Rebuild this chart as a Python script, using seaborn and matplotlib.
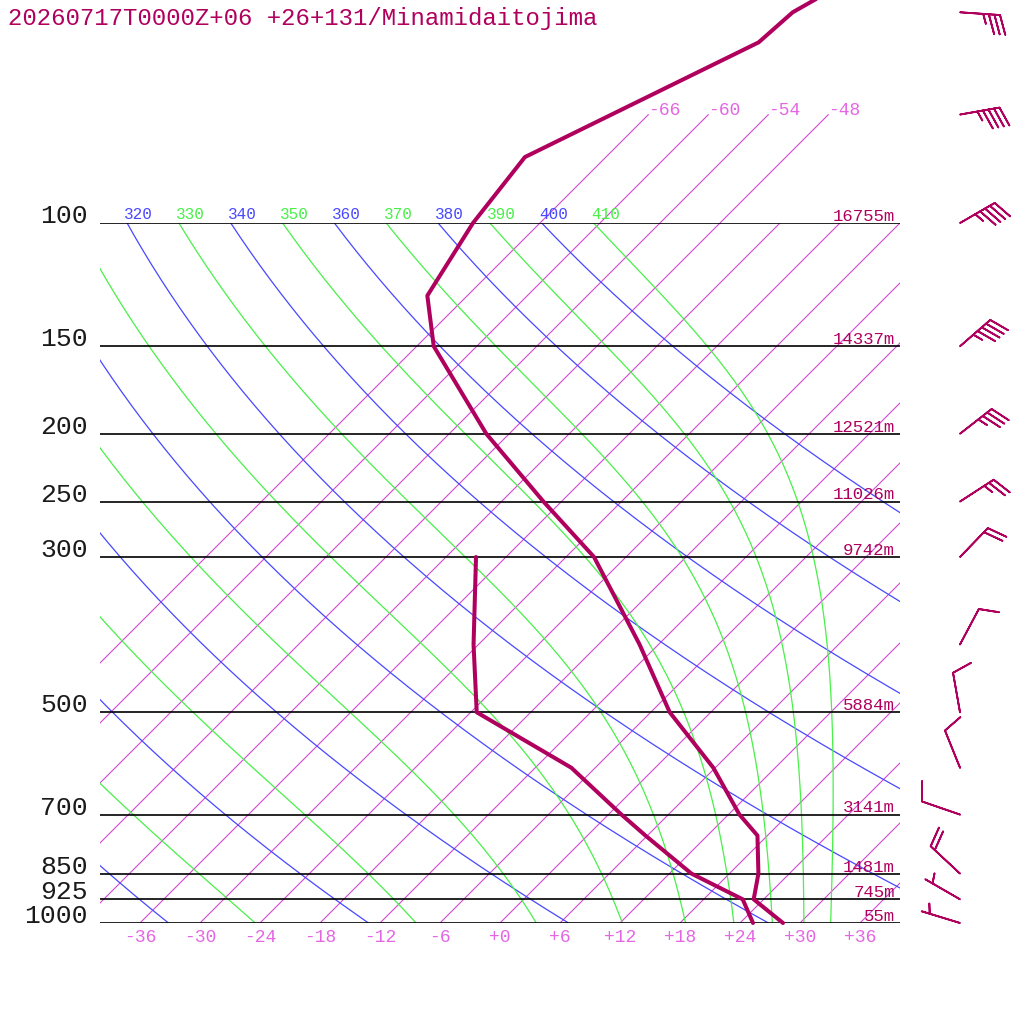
import numpy as np
import pandas as pd
import seaborn as sns
import matplotlib
matplotlib.use("Agg")
from matplotlib import pyplot as plt
from matplotlib.patches import Rectangle

TITLE = "20260717T0000Z+06 +26+131/Minamidaitojima"

# sounding (hPa, degC)
temp_p = [1000, 925, 850, 750, 700, 600, 500, 400, 300, 250, 200, 150, 127, 100, 80.5, 55.2, 50, 30]
temp_t = [28.3, 23.0, 20.9, 17.0, 13.1, 5.8, -4.1, -13.9, -27.2, -37.8, -50.3, -64.3,
          -70.0, -72.7, -74.1, -62.2, -61.8, -50.0]
dewp_p = [1000, 925, 850, 750, 700, 600, 500, 400, 300]
dewp_t = [25.3, 21.9, 14.2, 5.8, 1.3, -8.4, -23.4, -30.5, -39.0]

# winds (direction deg, speed kt)
wind_p = [1000, 925, 850, 700, 600, 500, 400, 300, 250, 200, 150, 100, 70, 50]
wind_dir = [287, 300, 313, 289, 338, 350, 28, 44, 57, 52, 49, 60, 80, 94]
wind_kt = [5, 5, 20, 10, 10, 10, 10, 20, 25, 35, 45, 45, 45, 35]

# standard levels and their heights
level_p = [1000, 925, 850, 700, 500, 300, 250, 200, 150, 100]
level_hgt = ["55m", "745m", "1481m", "3141m", "5884m", "9742m", "11026m",
             "12521m", "14337m", "16755m"]

# diagram background
temp_ticks = [-36, -30, -24, -18, -12, -6, 0, 6, 12, 18, 24, 30, 36]
isotherm_t = list(range(-66, 37, 6))
isotherm_top = [-66, -60, -54, -48]
dry_theta = [240, 260, 280, 300, 320, 340, 360, 380, 400]
dry_labels = [320, 340, 360, 380, 400]
moist_theta = [250, 270, 290, 310, 330, 350, 370, 390, 410]
moist_labels = [310, 330, 350, 370, 390, 410]

LINE_C = "#b0005e"
ISO_C = "#d248d2"
ISO_LABEL_C = "#e466e4"
DRY_C = "#4848ff"
MOIST_C = "#48f048"

RD, CP, LV, EPS = 287.04, 1005.7, 2.501e6, 0.622
KAPPA = RD / CP
# 45 degree skew: 80 degC over 800 px, one decade of pressure over 700 px
SKEW = 70.0 / np.log(10)


def skew_x(t, p):
    return np.asarray(t, float) + SKEW * np.log(1000.0 / np.asarray(p, float))


def _sat_mix(tk, p):
    tc = tk - 273.15
    es = 6.112 * np.exp(17.67 * tc / (tc + 243.5))
    return EPS * es / (p - es)


def _moist_rate(tk, p):
    rs = _sat_mix(tk, p)
    return (RD * tk + LV * rs) / (CP + LV ** 2 * rs * EPS / (RD * tk ** 2))


def moist_adiabat(theta, plev):
    tk = theta * (plev[0] / 1000.0) ** KAPPA
    out = [tk]
    for p0, p1 in zip(plev[:-1], plev[1:]):
        h = np.log(p1 / p0)
        pm = p0 * np.exp(h / 2)
        k1 = _moist_rate(tk, p0)
        k2 = _moist_rate(tk + h / 2 * k1, pm)
        k3 = _moist_rate(tk + h / 2 * k2, pm)
        k4 = _moist_rate(tk + h * k3, p1)
        tk = tk + h / 6 * (k1 + 2 * k2 + 2 * k3 + k4)
        out.append(tk)
    return np.array(out) - 273.15


sns.set_style("white")
plt.rcParams["font.family"] = ["Liberation Mono", "DejaVu Sans Mono"]

fig = plt.figure(figsize=(10.24, 10.24), dpi=100)
ax = fig.add_axes([100 / 1024, 101 / 1024, 800 / 1024, 700 / 1024])
ax.set_yscale("log")
ax.set_xlim(-40, 40)
ax.set_ylim(1000, 100)
ax.set_axis_off()

plev = np.geomspace(100, 1000, 200)

# isotherms
for t in isotherm_t:
    ax.plot(skew_x([t, t], [1000, 100]), [1000, 100], color=ISO_C, lw=0.8)
for t in isotherm_top:
    ax.plot(skew_x([t, t], [100, 70]), [100, 70], color=ISO_C, lw=0.8, clip_on=False)
    ax.annotate(f"{t:+d}", xy=(skew_x(t, 70), 70), xytext=(0, -0.5),
                textcoords="offset points", ha="left", va="baseline",
                color=ISO_LABEL_C, fontsize=13, annotation_clip=False)

# label clip box: plot width, extended upward
clip = Rectangle((-40, 80), 80, 920, transform=ax.transData)

# dry adiabats
for th in dry_theta:
    t = th * (plev / 1000.0) ** KAPPA - 273.15
    ax.plot(skew_x(t, plev), plev, color=DRY_C, lw=0.9)
    if th in dry_labels:
        txt = ax.annotate(str(th), xy=(skew_x(t[0], 100), 100), xytext=(-2, 3),
                          textcoords="offset points", ha="left", va="baseline",
                          color=DRY_C, fontsize=11.5, annotation_clip=False)
        txt.set_clip_path(clip)

# moist adiabats, labelled by theta at 100 hPa
for th in moist_theta:
    t = moist_adiabat(th, plev)
    ax.plot(skew_x(t, plev), plev, color=MOIST_C, lw=0.9)
    if th in moist_labels:
        txt = ax.annotate(str(th), xy=(skew_x(t[0], 100), 100), xytext=(-2, 3),
                          textcoords="offset points", ha="left", va="baseline",
                          color=MOIST_C, fontsize=11.5, annotation_clip=False)
        txt.set_clip_path(clip)

# pressure levels
ax.hlines(level_p, -40, 40, color="black", lw=1.2)
for p, h in zip(level_p, level_hgt):
    ax.annotate(str(p), xy=(-41.2, p), ha="right", va="baseline", fontsize=19,
                color="#1a1a1a", annotation_clip=False)
    ax.annotate(h, xy=(39.5, p), xytext=(0, 1.5), textcoords="offset points",
                ha="right", va="baseline", fontsize=12.5, color=LINE_C,
                annotation_clip=False)

# temperature axis labels
for t in temp_ticks:
    ax.annotate(f"{t:+d}", xy=(t, 1000), xytext=(0, -13.7), textcoords="offset points",
                ha="center", va="baseline", fontsize=13, color=ISO_LABEL_C,
                annotation_clip=False)

# sounding
temp_df = pd.DataFrame({"x": skew_x(temp_t, temp_p), "p": temp_p})
dewp_df = pd.DataFrame({"x": skew_x(dewp_t, dewp_p), "p": dewp_p})
sns.lineplot(data=temp_df, x="x", y="p", sort=False, estimator=None, ax=ax,
             color=LINE_C, lw=2.9, clip_on=False)
sns.lineplot(data=dewp_df, x="x", y="p", sort=False, estimator=None, ax=ax,
             color=LINE_C, lw=2.9, clip_on=False)

# wind barbs (barb size scales as length**2/2 points)
wd = np.deg2rad(wind_dir)
u = -np.array(wind_kt) * np.sin(wd)
v = -np.array(wind_kt) * np.cos(wd)
bb = ax.barbs(np.full(len(wind_p), 46.0), wind_p, u, v, length=7.6, color=LINE_C,
              linewidth=1.3, sizes=dict(spacing=0.14, height=0.48, width=0.33))
bb.set_clip_on(False)

ax.set_xlim(-40, 40)
ax.set_ylim(1000, 100)
ax.set_xlabel("")
ax.set_ylabel("")

fig.text(8 / 1024, 1 - 25 / 1024, TITLE, ha="left", va="baseline",
         fontsize=17.3, color=LINE_C)

fig.savefig("out.png", dpi=100, facecolor="white")
